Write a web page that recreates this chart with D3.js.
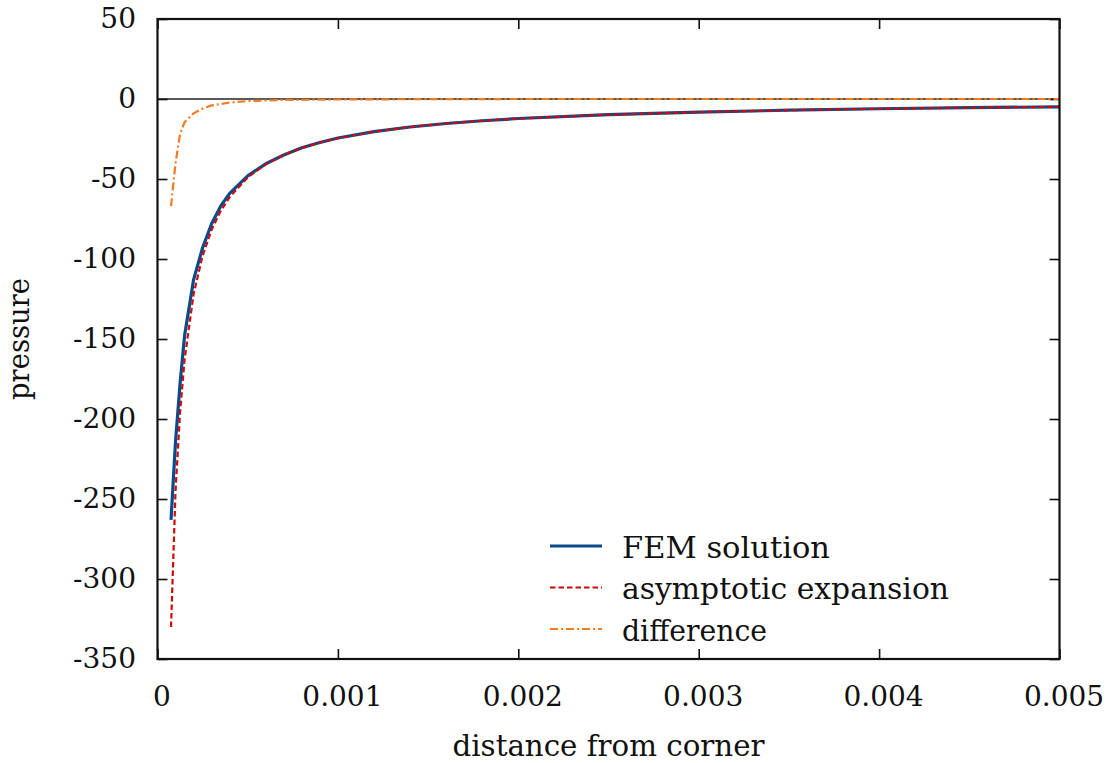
<!DOCTYPE html>
<html>
<head>
<meta charset="utf-8">
<script src="https://cdn.jsdelivr.net/npm/d3@7"></script>
<style>
  body { margin: 0; background: #fff; }
  text { font-family: "DejaVu Serif", "Liberation Serif", serif; fill: #111; }
</style>
</head>
<body>
<svg id="canvas" width="1107" height="763"></svg>
<script>
const svg = d3.select("#canvas");
const width = 1107;
const height = 763;

// values
const distance = [0.000075, 0.0001, 0.000125, 0.00015, 0.0002, 0.00025, 0.0003, 0.00035, 0.0004,
    0.0005, 0.0006, 0.0007, 0.0008, 0.0009, 0.001, 0.0012, 0.0014, 0.0016, 0.0018, 0.002,
    0.0025, 0.003, 0.0035, 0.004, 0.0045, 0.005];
const femPressure = [-263, -214, -178, -148, -113, -93, -78, -67, -59,
    -48, -40.5, -35, -30.5, -27.2, -24.4, -20.4, -17.5, -15.3, -13.6, -12.2,
    -9.8, -8.2, -7.0, -6.1, -5.4, -4.9];
const asymptotic = [-330, -245, -196, -163, -122, -98, -81.7, -70, -61.3,
    -49, -40.8, -35, -30.6, -27.2, -24.5, -20.4, -17.5, -15.3, -13.6, -12.25,
    -9.8, -8.2, -7.0, -6.1, -5.4, -4.9];
const diffDistance = [0.000075, 0.0001, 0.000125, 0.00015, 0.0002, 0.00025, 0.0003, 0.0004,
    0.0005, 0.0007, 0.001, 0.0015, 0.002, 0.003, 0.004, 0.005];
const difference = [-67, -40, -22, -14.5, -9, -6, -4, -2.2,
    -1.3, -0.6, -0.3, -0.1, 0, 0, 0, 0];

const xTicks = [0, 0.001, 0.002, 0.003, 0.004, 0.005];
const xTickLabels = ["0", "0.001", "0.002", "0.003", "0.004", "0.005"];
const yTicks = [50, 0, -50, -100, -150, -200, -250, -300, -350];
const yTickLabels = ["50", "0", "-50", "-100", "-150", "-200", "-250", "-300", "-350"];

const seriesNames = ["FEM solution", "asymptotic expansion", "difference"];

const plotLeft = 157.5, plotRight = 1059.5, plotTop = 19, plotBottom = 659;

const x = d3.scaleLinear().domain([0, 0.005]).range([plotLeft, plotRight]);
const y = d3.scaleLinear().domain([-350, 50]).range([plotBottom, plotTop]);

const styles = [
    { color: "#0b4a8a", width: 3.2, dash: null },
    { color: "#cc0a0a", width: 2.2, dash: "5.5,3" },
    { color: "#f47a1f", width: 2.2, dash: "8,3,2,3" }
];

// zero line
svg.append("line")
    .attr("x1", plotLeft).attr("x2", plotRight)
    .attr("y1", y(0)).attr("y2", y(0))
    .attr("stroke", "#222")
    .attr("stroke-width", 1.4);

// axes, ticks pointing inward
const xAxis = svg.append("g")
    .attr("transform", `translate(0,${plotBottom})`)
    .call(d3.axisBottom(x).tickValues(xTicks).tickSizeInner(-10).tickSizeOuter(0)
        .tickPadding(27).tickFormat((d, i) => xTickLabels[i]));
xAxis.selectAll("text").attr("x", 4);

svg.append("g")
    .attr("transform", `translate(0,${plotTop})`)
    .call(d3.axisTop(x).tickValues(xTicks).tickSizeInner(-10).tickSizeOuter(0).tickFormat(""));

svg.append("g")
    .attr("transform", `translate(${plotLeft},0)`)
    .call(d3.axisLeft(y).tickValues(yTicks).tickSizeInner(-10).tickSizeOuter(0)
        .tickPadding(21.5).tickFormat((d, i) => yTickLabels[i]));

svg.append("g")
    .attr("transform", `translate(${plotRight},0)`)
    .call(d3.axisRight(y).tickValues(yTicks).tickSizeInner(-10).tickSizeOuter(0).tickFormat(""));

svg.selectAll(".domain").remove();
svg.selectAll(".tick line").attr("stroke", "#111").attr("stroke-width", 1.6);
svg.selectAll(".tick text")
    .attr("font-size", "28px")
    .attr("fill", "#111");

// curves
const line = d3.line()
    .x(d => x(d[0]))
    .y(d => y(d[1]));

const curves = [
    d3.zip(distance, femPressure),
    d3.zip(distance, asymptotic),
    d3.zip(diffDistance, difference)
];

curves.forEach((pts, i) => {
    svg.append("path")
        .datum(pts)
        .attr("d", line)
        .attr("fill", "none")
        .attr("stroke", styles[i].color)
        .attr("stroke-width", styles[i].width)
        .attr("stroke-dasharray", styles[i].dash)
        .attr("stroke-linejoin", "round");
});

// frame
svg.append("rect")
    .attr("x", plotLeft).attr("y", plotTop)
    .attr("width", plotRight - plotLeft).attr("height", plotBottom - plotTop)
    .attr("fill", "none")
    .attr("stroke", "#111")
    .attr("stroke-width", 2.2);

// legend
const legendWidths = [208, 327, 145];
seriesNames.forEach((name, i) => {
    const ly = 546 + i * 41.5;
    svg.append("line")
        .attr("x1", 550).attr("x2", 602)
        .attr("y1", ly).attr("y2", ly)
        .attr("stroke", styles[i].color)
        .attr("stroke-width", styles[i].width)
        .attr("stroke-dasharray", styles[i].dash);
    svg.append("text")
        .attr("x", 622)
        .attr("y", ly + 11.5)
        .attr("font-size", "29px")
        .attr("textLength", legendWidths[i])
        .attr("lengthAdjust", "spacingAndGlyphs")
        .text(name);
});

// axis titles
svg.append("text")
    .attr("x", (plotLeft + plotRight) / 2)
    .attr("y", 756)
    .attr("text-anchor", "middle")
    .attr("font-size", "29px")
    .attr("textLength", 312)
    .attr("lengthAdjust", "spacingAndGlyphs")
    .text("distance from corner");

svg.append("text")
    .attr("transform", `translate(29,${(plotTop + plotBottom) / 2}) rotate(-90)`)
    .attr("text-anchor", "middle")
    .attr("font-size", "29px")
    .attr("textLength", 122)
    .attr("lengthAdjust", "spacingAndGlyphs")
    .text("pressure");
</script>
</body>
</html>
